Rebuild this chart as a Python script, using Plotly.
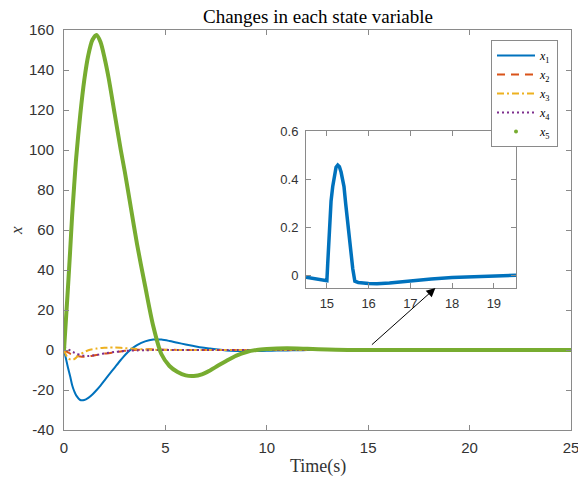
import plotly.graph_objects as go

# ---------------- data ----------------
t = [0, 0.1, 0.2, 0.3, 0.4, 0.5, 0.6, 0.8, 1.0, 1.2, 1.4, 1.6, 1.8, 2.0, 2.2, 2.5,
     2.8, 3.0, 3.3, 3.6, 4.0, 4.4, 4.8, 5.2, 5.6, 6.0, 6.4, 6.8, 7.2, 7.6, 8.0, 8.5,
     9.0, 9.5, 10, 10.5, 11, 11.5, 12, 13, 14, 15, 17, 20, 25]

x1 = [0, -4.5, -9, -13, -17.5, -20.5, -22.7, -25.0, -25.0, -23.9, -22.2, -20.1, -17.8, -15.2, -12.6, -8.8,
      -5, -2.6, 0.3, 2.4, 4.3, 5.2, 5.2, 4.5, 3.6, 2.8, 2.0, 1.2, 0.7, 0.2, -0.2, -0.45,
      -0.55, -0.5, -0.4, -0.3, -0.2, -0.1, -0.05, 0, 0, 0, 0, 0, 0]

x2 = [0, -0.6, -1.2, -1.8, -2.2, -2.6, -2.9, -3.3, -3.4, -3.2, -2.9, -2.5, -2.1, -1.8, -1.6, -1.2,
      -0.7, -0.4, -0.1, 0.1, 0.3, 0.3, 0.2, 0.1, 0.05, 0, 0, 0, 0, 0, 0, 0,
      0, 0, 0, 0, 0, 0, 0, 0, 0, 0, 0, 0, 0]

x3 = [0, -2.5, -4, -4.7, -5, -4.6, -3.8, -2.2, -1.0, -0.1, 0.4, 0.7, 0.95, 1.1, 1.2, 1.2,
      1.1, 0.95, 0.7, 0.5, 0.3, 0.1, 0, 0, 0, 0, 0, 0, 0, 0, 0, 0,
      0, 0, 0, 0, 0, 0, 0, 0, 0, 0, 0, 0, 0]

x4 = [1.2, 0.8, 0.3, -0.2, -0.8, -1.3, -1.8, -2.5, -2.9, -3.0, -2.8, -2.5, -2.1, -1.7, -1.4, -1.0,
      -0.7, -0.5, -0.3, -0.2, -0.1, -0.05, 0, 0, 0, 0, 0, 0, 0, 0, 0, 0,
      0, 0, 0, 0, 0, 0, 0, 0, 0, 0, 0, 0, 0]

x5 = [0, 16, 32, 49, 67, 82, 96, 117.5, 135, 147.5, 155, 157.5, 154, 146, 136, 118,
      100, 89, 71, 53, 32, 12, -2, -8, -11, -12.7, -13, -12.2, -10.2, -7.8, -5.5, -2.8,
      -1.0, 0, 0.5, 0.8, 0.9, 0.8, 0.6, 0.2, 0.05, 0, 0, 0, 0]

# inset: zoom of x1 between t = 14.5 and 19.5
t_zoom = [14.5, 15.0, 15.02, 15.04, 15.07, 15.10, 15.14, 15.18, 15.22, 15.26, 15.30, 15.34,
          15.38, 15.41, 15.45, 15.49, 15.53, 15.57, 15.62, 15.67, 15.75,
          16.0, 16.2, 16.5, 17.0, 17.5, 18.0, 18.5, 19.0, 19.53]
x1_zoom = [-0.005, -0.02, 0.05, 0.13, 0.23, 0.31, 0.37, 0.42, 0.45, 0.459, 0.452, 0.43,
           0.40, 0.37, 0.30, 0.23, 0.16, 0.093, 0.03, -0.022, -0.027,
           -0.031, -0.032, -0.029, -0.02, -0.013, -0.007, -0.003, 0.0, 0.003]

names = ["<i>x</i><sub>1</sub>", "<i>x</i><sub>2</sub>", "<i>x</i><sub>3</sub>",
         "<i>x</i><sub>4</sub>", "<i>x</i><sub>5</sub>"]
x_ticks = [0, 5, 10, 15, 20, 25]
y_ticks = [-40, -20, 0, 20, 40, 60, 80, 100, 120, 140, 160]
y_tick_labels = ["-40", "-20", "0", "20", "40", "60", "80", "100", "120", "140", "160"]
zx_ticks = [15, 16, 17, 18, 19]
zy_ticks = [0, 0.2, 0.4, 0.6]
zy_tick_labels = ["0", "0.2", "0.4", "0.6"]

# ---------------- figure ----------------
BLUE, RED, ORANGE, PURPLE, GREEN = "#0072BD", "#D95319", "#EDB120", "#7E2F8E", "#77AC30"
W, H = 578, 481


def px(x):
    return x / W


def py(y):
    return 1 - y / H


fig = go.Figure()
fig.add_trace(go.Scatter(x=t, y=x1, mode="lines", name=names[0],
                         line=dict(color=BLUE, width=2, shape="spline", smoothing=0.8)))
fig.add_trace(go.Scatter(x=t, y=x2, mode="lines", name=names[1],
                         line=dict(color=RED, width=2, dash="8px,6px", shape="spline", smoothing=0.8)))
fig.add_trace(go.Scatter(x=t, y=x3, mode="lines", name=names[2],
                         line=dict(color=ORANGE, width=2, dash="7px,3px,2px,3px", shape="spline", smoothing=0.8)))
fig.add_trace(go.Scatter(x=t, y=x4, mode="lines", name=names[3],
                         line=dict(color=PURPLE, width=2, dash="2px,3px", shape="spline", smoothing=0.8)))
fig.add_trace(go.Scatter(x=t, y=x5, mode="lines", name=names[4], showlegend=False,
                         line=dict(color=GREEN, width=4, shape="spline", smoothing=0.8)))
# legend entry for x5 (plotted with point markers in the original)
fig.add_trace(go.Scatter(x=[None], y=[None], mode="markers", name=names[4],
                         marker=dict(color=GREEN, size=4)))
# inset
fig.add_trace(go.Scatter(x=t_zoom, y=x1_zoom, mode="lines", showlegend=False,
                         line=dict(color=BLUE, width=3.5),
                         xaxis="x2", yaxis="y2"))

AX = "#8a8a8a"
TXT = "#333333"
tick_font = dict(family="Liberation Sans, Arial, sans-serif", size=15, color=TXT)
common = dict(showgrid=False, zeroline=False, showline=True, linecolor=AX, linewidth=1,
              mirror="ticks", ticks="inside", ticklen=5, tickcolor=AX, tickwidth=1,
              automargin=False, ticklabeloverflow="allow")

fig.update_layout(
    width=W, height=H,
    margin=dict(l=0, r=0, t=0, b=0, pad=0, autoexpand=False),
    paper_bgcolor="white", plot_bgcolor="white",
    showlegend=True,
    xaxis=dict(domain=[px(64), px(571)], range=[0, 25], tickvals=x_ticks,
               tickfont=tick_font, ticklabelstandoff=4, anchor="y", **common),
    yaxis=dict(domain=[py(430), py(30)], range=[-40, 160], tickvals=y_ticks,
               ticktext=y_tick_labels,
               tickfont=tick_font, ticklabelstandoff=6, anchor="x", **common),
    xaxis2=dict(domain=[px(306), px(516)], range=[14.5, 19.53], tickvals=zx_ticks,
                tickfont=dict(tick_font, size=13), ticklabelstandoff=3, anchor="y2", **common),
    yaxis2=dict(domain=[py(288), py(131)], range=[-0.05, 0.6], tickvals=zy_ticks,
                ticktext=zy_tick_labels,
                tickfont=dict(tick_font, size=13), ticklabelstandoff=4, anchor="x2", **common),
    legend=dict(x=px(558), y=py(40), xanchor="right", yanchor="top",
                bgcolor="white", bordercolor=AX, borderwidth=1,
                font=dict(family="Liberation Serif, serif", size=12, color="#000"),
                itemwidth=38, tracegroupgap=0),
    annotations=[
        dict(text="Changes in each state variable", x=px(318), y=py(17),
             xref="paper", yref="paper", showarrow=False, xanchor="center", yanchor="middle",
             font=dict(family="Liberation Serif, Times New Roman, serif", size=19, color="#000")),
        dict(text="Time(s)", x=px(318), y=py(466),
             xref="paper", yref="paper", showarrow=False, xanchor="center", yanchor="middle",
             font=dict(family="Liberation Serif, Times New Roman, serif", size=18, color="#333")),
        dict(text="<i>x</i>", x=px(16), y=py(231), textangle=-90,
             xref="paper", yref="paper", showarrow=False, xanchor="center", yanchor="middle",
             font=dict(family="Liberation Serif, Times New Roman, serif", size=17, color="#333")),
        dict(text="", x=17.6, y=-0.05, xref="x2", yref="y2",
             showarrow=True, ax=-65, ay=58, arrowhead=2, arrowsize=1.8, arrowwidth=1,
             arrowcolor="#000"),
    ],
)

# the page body has a default 8px margin; remove it so the figure fills the window
fig.write_html("out.html",
               config={"displayModeBar": False, "staticPlot": True},
               post_script="document.body.style.margin='0px';document.body.style.overflow='hidden';")
